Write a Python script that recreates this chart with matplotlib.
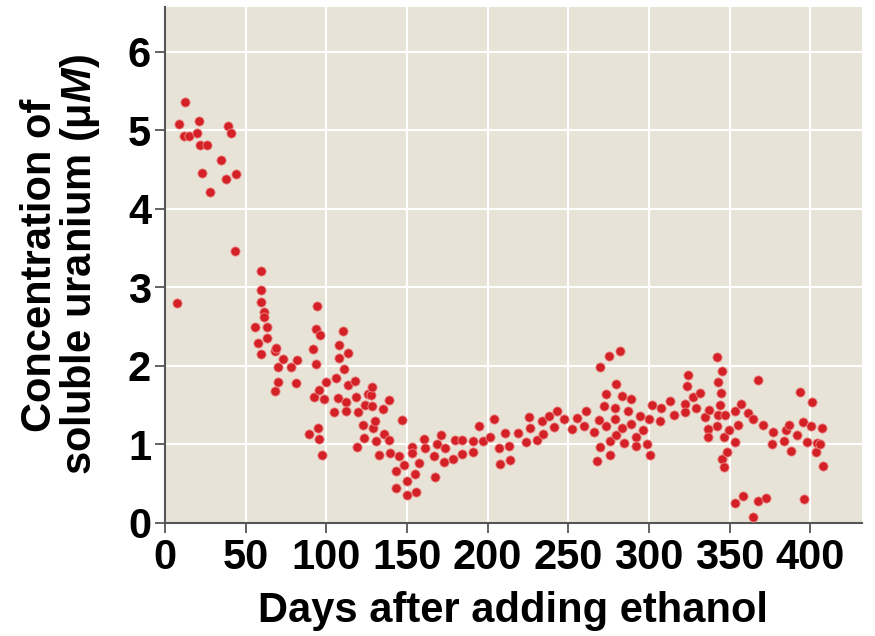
import matplotlib
matplotlib.use("Agg")
import matplotlib.pyplot as plt

# days after adding ethanol, soluble uranium (uM)
days = [
    7.4, 8.7, 11.8, 12.6, 14.7, 19.6, 21.0, 21.7, 25.8, 23.1, 27.9, 34.5, 38.0, 38.8, 40.9, 44.2, 43.6,
    56.0, 57.8, 59.5, 59.3, 59.5, 59.7, 61.1, 61.3, 63.2, 63.2, 68.0, 68.8, 68.2, 69.8, 70.0, 73.3,
    78.0, 81.2, 82.0, 89.4, 91.9, 92.3, 93.6, 93.8, 94.4, 94.6, 95.2, 95.4, 95.8, 97.5, 98.3, 99.8,
    104.9, 106.1, 107.0, 107.6, 107.8, 110.3, 111.1, 112.1, 112.1, 113.2, 113.2, 117.7, 118.5, 118.8,
    119.4, 122.7, 123.3, 124.1, 125.8, 127.4, 128.5, 128.1, 128.7, 130.1, 130.7, 132.8, 135.1, 135.5,
    138.8, 139.0, 139.2, 142.9, 143.1, 145.0, 146.8, 147.9, 150.0, 150.0, 152.8, 153.0, 155.1, 155.8,
    157.4, 160.5, 161.3, 166.5, 167.5, 168.3, 170.8, 173.0, 173.7, 178.6, 179.7, 183.8, 184.0, 190.8,
    190.8, 194.7, 197.2, 201.6, 204.0, 207.1, 207.6, 210.9, 213.1, 213.9, 218.7, 223.7, 225.7, 226.1,
    230.3, 233.4, 234.4, 237.9, 241.4, 243.1, 247.2, 252.4, 255.3, 259.8, 261.0, 266.0, 267.9, 268.7,
    269.5, 269.9, 271.8, 273.2, 273.4, 275.3, 275.7, 275.7, 278.8, 279.2, 279.4, 279.8, 282.2, 283.2,
    283.3, 284.4, 287.1, 288.7, 288.7, 292.0, 292.0, 294.1, 296.2, 298.5, 299.7, 300.9, 301.7, 306.7,
    307.7, 313.1, 315.4, 322.2, 322.2, 323.4, 324.0, 327.3, 329.3, 331.4, 334.8, 336.4, 336.4, 337.0,
    342.0, 342.4, 342.6, 342.8, 343.9, 344.5, 345.1, 345.1, 346.4, 346.5, 346.8, 348.6, 349.3, 353.0,
    353.2, 353.3, 355.0, 357.3, 358.5, 361.2, 364.7, 364.7, 367.6, 367.8, 370.7, 372.6, 376.3, 376.9,
    383.7, 384.9, 387.0, 388.0, 392.0, 393.6, 395.5, 396.1, 397.8, 400.2, 401.3, 403.2, 404.4, 406.2,
    407.0, 408.1,
]
uranium = [
    2.80, 5.08, 4.93, 5.36, 4.93, 4.96, 5.12, 4.81, 4.81, 4.46, 4.21, 4.62, 4.38, 5.06, 4.96, 4.44, 3.46,
    2.50, 2.29, 3.21, 2.97, 2.81, 2.15, 2.69, 2.62, 2.49, 2.35, 2.19, 2.23, 1.68, 1.99, 1.79, 2.09,
    1.98, 1.78, 2.07, 1.13, 2.21, 1.61, 2.02, 2.47, 2.76, 1.21, 1.69, 1.07, 2.39, 0.87, 1.58, 1.80,
    1.41, 1.84, 1.59, 2.27, 2.10, 2.45, 1.96, 1.54, 1.43, 2.16, 1.76, 1.81, 1.61, 0.97,
    1.41, 1.25, 1.08, 1.50, 1.64, 1.63, 1.73, 1.49, 1.21, 1.30, 1.05, 0.87, 1.45, 1.13,
    1.57, 1.06, 0.89, 0.66, 0.45, 0.85, 1.31, 0.74, 0.54, 0.36, 0.97, 0.89, 0.62, 0.39,
    0.76, 1.07, 0.96, 0.85, 0.58, 1.00, 1.12, 0.78, 0.95, 0.82, 1.06, 1.06, 0.88, 1.04,
    0.90, 1.23, 1.05, 1.09, 1.32, 0.96, 0.75, 1.14, 0.98, 0.80, 1.15, 1.03, 1.35, 1.21,
    1.06, 1.30, 1.13, 1.36, 1.22, 1.43, 1.33, 1.20, 1.34, 1.23, 1.42, 1.16, 0.79, 1.31,
    0.97, 1.98, 1.49, 1.23, 1.64, 2.13, 1.05, 0.86, 1.32, 1.47, 1.77, 1.12, 2.19, 1.21,
    1.62, 1.02, 1.43, 1.58, 1.26, 1.09, 0.98, 1.36, 1.19, 1.01, 1.32, 0.86, 1.50, 1.30,
    1.47, 1.55, 1.38, 1.52, 1.41, 1.75, 1.89, 1.61, 1.46, 1.66, 1.35, 1.20, 1.09, 1.44,
    2.11, 1.24, 1.79, 1.37, 1.50, 1.66, 1.94, 0.82, 0.71, 1.09, 1.37, 0.90, 1.18, 1.03,
    1.42, 0.25, 1.25, 1.52, 0.34, 1.40, 1.33, 0.08, 1.82, 0.28, 1.25, 0.32, 1.00, 1.16,
    1.04, 1.18, 1.25, 0.92, 1.12, 1.67, 1.29, 0.31, 1.03, 1.23, 1.54, 0.90, 1.02, 1.00,
    1.21, 0.72,
]
x_ticks = [0, 50, 100, 150, 200, 250, 300, 350, 400]
y_ticks = [0, 1, 2, 3, 4, 5, 6]

plt.rcParams["font.family"] = ["Liberation Sans", "DejaVu Sans"]
plt.rcParams["font.weight"] = "bold"
plt.rcParams["mathtext.fontset"] = "custom"
plt.rcParams["mathtext.rm"] = "Liberation Sans:bold"
plt.rcParams["mathtext.it"] = "Liberation Sans:bold:italic"
plt.rcParams["mathtext.bf"] = "Liberation Sans:bold"

fig = plt.figure(figsize=(8.75, 6.36), dpi=100)
ax = fig.add_axes([165 / 875, 1 - 523 / 636, 697 / 875, 516 / 636])
ax.set_facecolor("#e7e3d6")

ax.scatter(days, uranium, s=44, color="#d42027", edgecolor="#e98a86",
           linewidth=0.6, zorder=3)

ax.set_xlim(0, 432)
ax.set_ylim(0, 6.57)
ax.set_xticks(x_ticks)
ax.set_yticks(y_ticks)
ax.grid(True, color="white", linewidth=1.5)
ax.set_axisbelow(True)

for side in ["top", "right"]:
    ax.spines[side].set_visible(False)
for side in ["left", "bottom"]:
    ax.spines[side].set_color("#555555")
    ax.spines[side].set_linewidth(1.5)

ax.tick_params(axis="both", direction="out", length=7, width=1.3, color="#555555",
               labelsize=30)
ax.tick_params(axis="x", pad=4)
ax.tick_params(axis="y", pad=3)
for lbl in ax.get_xticklabels() + ax.get_yticklabels():
    lbl.set_fontweight("bold")

ax.set_xlabel("Days after adding ethanol", fontsize=30, fontweight="bold", labelpad=9)
ax.set_ylabel("Concentration of\nsoluble uranium (\u03bc$\\mathit{M}$)", fontsize=30,
              fontweight="bold", linespacing=0.95)
ax.yaxis.set_label_coords(-0.09, 0.5)

fig.savefig("out.png", dpi=100)
